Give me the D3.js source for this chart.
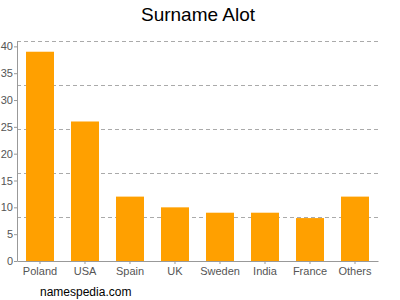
<!DOCTYPE html>
<html>
<head>
<meta charset="utf-8">
<script src="https://cdn.jsdelivr.net/npm/d3@7"></script>
<style>
    body { margin: 0; background: #fff; }
    svg { font-family: "Liberation Sans", Arial, sans-serif; }
</style>
</head>
<body>
<div id="chart"></div>
<script>
// data
var countries = ['Poland', 'USA', 'Spain', 'UK', 'Sweden', 'India', 'France', 'Others'];
var counts = [39, 26, 12, 10, 9, 9, 8, 12];
var yTicks = [0, 5, 10, 15, 20, 25, 30, 35, 40];
var gridValues = [8.2, 16.4, 24.6, 32.8, 41];

var width = 400, height = 300;
var margin = {top: 41, right: 22, bottom: 39, left: 17};

var svg = d3.select('#chart').append('svg')
    .attr('width', width)
    .attr('height', height);

var x = d3.scaleBand()
    .domain(countries)
    .range([margin.left, width - margin.right])
    .paddingInner(0.378)
    .paddingOuter(0.2);

var y = d3.scaleLinear()
    .domain([0, 41])
    .range([height - margin.bottom, margin.top]);

// title
svg.append('text')
    .attr('x', 198)
    .attr('y', 21)
    .attr('text-anchor', 'middle')
    .style('font-size', '19px')
    .attr('fill', '#000')
    .text('Surname Alot');

// dashed grid
svg.append('g')
    .selectAll('line')
    .data(gridValues)
    .join('line')
    .attr('x1', margin.left)
    .attr('x2', width - margin.right)
    .attr('y1', function(d) { return Math.round(y(d)) + 0.5; })
    .attr('y2', function(d) { return Math.round(y(d)) + 0.5; })
    .attr('stroke', '#aaa')
    .attr('stroke-dasharray', '4,3');

// bars
svg.append('g')
    .selectAll('rect')
    .data(counts)
    .join('rect')
    .attr('x', function(d, i) { return x(countries[i]); })
    .attr('width', x.bandwidth())
    .attr('y', function(d) { return y(d); })
    .attr('height', function(d) { return y(0) - y(d); })
    .attr('fill', '#ffa000');

// y axis
var yAxis = svg.append('g')
    .attr('transform', 'translate(' + margin.left + ',0)')
    .call(d3.axisLeft(y).tickValues(yTicks).tickSize(3).tickSizeOuter(0));

// x axis
var xAxis = svg.append('g')
    .attr('transform', 'translate(0,' + y(0) + ')')
    .call(d3.axisBottom(x).tickSize(3).tickSizeOuter(0));

[yAxis, xAxis].forEach(function(ax) {
    ax.select('.domain').attr('stroke', '#999');
    ax.selectAll('.tick line').attr('stroke', '#999');
    ax.selectAll('text')
        .attr('fill', '#555')
        .style('font-size', '11px')
        .style('font-family', '"Liberation Sans", Arial, sans-serif');
});
yAxis.selectAll('text').attr('x', -4);
xAxis.selectAll('text').attr('y', 6);

// footer
svg.append('text')
    .attr('x', 40)
    .attr('y', 296)
    .style('font-size', '12px')
    .attr('fill', '#000')
    .text('namespedia.com');
</script>
</body>
</html>
